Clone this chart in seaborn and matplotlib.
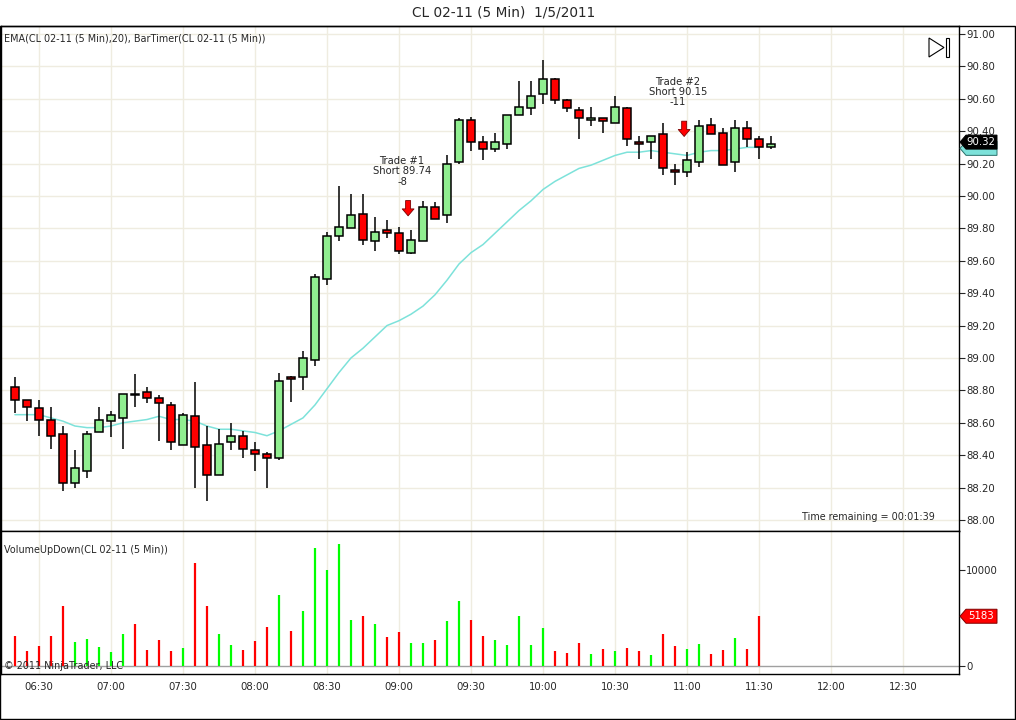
import matplotlib
matplotlib.use("Agg")
import numpy as np
import pandas as pd
import matplotlib.pyplot as plt
import matplotlib.transforms as mtrans
import seaborn as sns
from matplotlib.patches import Rectangle, Polygon

# 5 minute bars, 06:20 .. 11:35 (last bar still forming)
bar_times = pd.date_range("2011-01-05 06:20", "2011-01-05 11:35", freq="5min")

opens = [88.82, 88.74, 88.69, 88.62, 88.53, 88.23, 88.30, 88.54, 88.61, 88.63,
         88.78, 88.79, 88.75, 88.71, 88.46, 88.64, 88.46, 88.28, 88.48, 88.52,
         88.43, 88.41, 88.38, 88.88, 88.88, 88.99, 89.49, 89.75, 89.80, 89.89,
         89.72, 89.79, 89.77, 89.65, 89.72, 89.93, 89.88, 90.21, 90.47, 90.33,
         90.29, 90.32, 90.50, 90.54, 90.63, 90.72, 90.59, 90.53, 90.47, 90.48,
         90.45, 90.54, 90.33, 90.33, 90.38, 90.16, 90.15, 90.21, 90.44, 90.39,
         90.21, 90.42, 90.35, 90.30]
highs = [88.88, 88.74, 88.74, 88.70, 88.58, 88.43, 88.55, 88.70, 88.67, 88.78,
         88.90, 88.82, 88.77, 88.73, 88.66, 88.85, 88.58, 88.56, 88.60, 88.55,
         88.48, 88.42, 88.91, 88.89, 89.04, 89.52, 89.78, 90.06, 90.01, 90.01,
         89.87, 89.85, 89.81, 89.79, 89.97, 89.96, 90.25, 90.48, 90.49, 90.37,
         90.39, 90.50, 90.71, 90.71, 90.84, 90.73, 90.60, 90.55, 90.55, 90.48,
         90.62, 90.55, 90.37, 90.37, 90.45, 90.20, 90.27, 90.47, 90.48, 90.42,
         90.47, 90.46, 90.37, 90.37]
lows = [88.66, 88.61, 88.52, 88.44, 88.18, 88.20, 88.26, 88.54, 88.51, 88.44,
        88.70, 88.72, 88.49, 88.43, 88.46, 88.20, 88.12, 88.28, 88.43, 88.38,
        88.30, 88.20, 88.37, 88.73, 88.80, 88.95, 89.45, 89.72, 89.80, 89.70,
        89.66, 89.74, 89.64, 89.64, 89.72, 89.86, 89.83, 90.20, 90.28, 90.22,
        90.27, 90.29, 90.50, 90.50, 90.57, 90.57, 90.52, 90.35, 90.43, 90.39,
        90.45, 90.31, 90.23, 90.23, 90.13, 90.07, 90.12, 90.18, 90.38, 90.19,
        90.15, 90.30, 90.23, 90.29]
closes = [88.74, 88.70, 88.62, 88.52, 88.23, 88.32, 88.53, 88.62, 88.65, 88.78,
          88.77, 88.75, 88.72, 88.48, 88.65, 88.45, 88.28, 88.47, 88.52, 88.44,
          88.41, 88.38, 88.86, 88.87, 89.00, 89.50, 89.75, 89.81, 89.88, 89.73,
          89.78, 89.77, 89.66, 89.73, 89.93, 89.86, 90.20, 90.47, 90.33, 90.29,
          90.33, 90.50, 90.55, 90.62, 90.72, 90.59, 90.54, 90.48, 90.48, 90.46,
          90.55, 90.35, 90.32, 90.37, 90.17, 90.15, 90.22, 90.43, 90.38, 90.19,
          90.42, 90.35, 90.30, 90.32]

# EMA(20) and volume only exist for closed bars (06:20 .. 11:30)
ema20 = [88.65, 88.65, 88.65, 88.63, 88.61, 88.58, 88.57, 88.57, 88.58, 88.60,
         88.61, 88.62, 88.64, 88.62, 88.62, 88.61, 88.58, 88.56, 88.56, 88.55,
         88.54, 88.52, 88.55, 88.59, 88.63, 88.71, 88.81, 88.91, 89.00, 89.06,
         89.13, 89.20, 89.23, 89.27, 89.32, 89.39, 89.48, 89.58, 89.65, 89.70,
         89.77, 89.84, 89.91, 89.97, 90.04, 90.09, 90.13, 90.17, 90.19, 90.22,
         90.25, 90.27, 90.27, 90.28, 90.27, 90.26, 90.25, 90.27, 90.28, 90.28,
         90.29, 90.30, 90.30]
volume = [3150, 1590, 2110, 3150, 6260, 2530, 2840, 2010, 1490, 3360,
          4390, 1700, 2730, 1590, 1900, 10730, 6260, 3360, 2220, 1700,
          2630, 4080, 7400, 3670, 5740, 12280, 10000, 12700, 4810, 5230,
          4390, 3050, 3560, 2420, 2420, 2730, 4710, 6780, 4810, 3150,
          2730, 2220, 5230, 2220, 3980, 1590, 1380, 2420, 1280, 1800,
          1590, 1900, 1590, 1180, 3360, 2110, 1800, 2320, 1280, 1700,
          2940, 1800, 5183]

trade_times = ["09:05", "11:00"]
trade_marks = [89.86, 90.35]
trade_labels = ["Trade #1\nShort 89.74\n-8", "Trade #2\nShort 90.15\n-11"]

tick_labels = ["06:30", "07:00", "07:30", "08:00", "08:30", "09:00", "09:30",
               "10:00", "10:30", "11:00", "11:30", "12:00", "12:30"]

def to_min(hhmm):
    h, m = hhmm.split(":")
    return int(h) * 60 + int(m)

df = pd.DataFrame({"t": bar_times.hour * 60 + bar_times.minute,
                   "open": opens, "high": highs, "low": lows, "close": closes})
ind = pd.DataFrame({"t": df["t"][:len(volume)], "ema": ema20, "vol": volume})

sns.set_style("white")
plt.rcParams["font.family"] = ["DejaVu Sans"]

W, H = 1016, 720
fig = plt.figure(figsize=(W / 100, H / 100), dpi=100)
ax = fig.add_axes([1 / W, (H - 531) / H, 958 / W, 505 / H])
axv = fig.add_axes([1 / W, (H - 674) / H, 958 / W, 143 / H], sharex=ax)

grid_c = "#efece0"
GREEN, RED, LIME = "#90ee90", "#ff0000", "#00ff00"
EMA_C = "#7de2da"

# candles
body_w = 3.4
for _, r in df.iterrows():
    ax.vlines(r.t, r.low, r.high, color="black", lw=1.1, zorder=3)
    lo, hi = min(r.open, r.close), max(r.open, r.close)
    fc = GREEN if r.close >= r.open else RED
    ax.add_patch(Rectangle((r.t - body_w / 2, lo), body_w, max(hi - lo, 0.004),
                           fc=fc, ec="black", lw=1.1, zorder=4))

sns.lineplot(data=ind, x="t", y="ema", ax=ax, color=EMA_C, lw=1.1, zorder=2)

# trade markers
for tt, yp, lab in zip(trade_times, trade_marks, trade_labels):
    xt = to_min(tt) - 1.2
    ax.annotate("", xy=(xt, yp), xytext=(0, 15), textcoords="offset points",
                arrowprops=dict(arrowstyle="simple,head_length=0.5,head_width=0.85,tail_width=0.36",
                                mutation_scale=10, fc="#ff0000", ec="#7a0000", lw=0.6), zorder=6)
    ax.annotate(lab, xy=(xt - 2.5, yp), xytext=(0, 34), textcoords="offset points",
                ha="center", va="center", fontsize=7.2, linespacing=1.05, zorder=6)

ax.set_ylim(87.932, 91.049)
ax.set_xlim(374.2, 773.3)
ax.set_yticks(np.arange(88.0, 91.01, 0.2))
ax.yaxis.set_major_formatter(matplotlib.ticker.FormatStrFormatter("%.2f"))
ax.yaxis.tick_right()
ax.tick_params(axis="y", direction="out", length=4, width=0.8, labelsize=7.3, pad=1)
ax.tick_params(axis="x", bottom=False, labelbottom=False)
ax.set_xlabel("")
ax.set_ylabel("")
xt_vals = [to_min(s) for s in tick_labels]
ax.set_xticks(xt_vals)
ax.grid(True, color=grid_c, lw=1)
ax.set_axisbelow(True)
for s in ax.spines.values():
    s.set_color("black")
    s.set_linewidth(1)

ax.text(0.003, 0.975, "EMA(CL 02-11 (5 Min),20), BarTimer(CL 02-11 (5 Min))",
        transform=ax.transAxes, fontsize=6.9, va="center", ha="left")
ax.text(0.975, 0.027, "Time remaining = 00:01:39", transform=ax.transAxes,
        fontsize=6.9, va="center", ha="right")

# volume panel
vcol = [LIME if c >= o else RED for o, c in zip(opens[:len(volume)], closes[:len(volume)])]
axv.vlines(ind["t"], 0, ind["vol"], colors=vcol, lw=1.6, zorder=3)
axv.axhline(0, color="#a0a0a0", lw=1, zorder=2)
axv.set_ylim(-833, 14063)
axv.set_yticks([0, 10000])
axv.yaxis.tick_right()
axv.tick_params(axis="y", direction="out", length=4, width=0.8, labelsize=7.3, pad=1)
axv.set_xticks(xt_vals)
axv.set_xticklabels(tick_labels)
axv.tick_params(axis="x", direction="out", length=4, width=0.8, labelsize=7.3, pad=2)
axv.grid(True, axis="x", color=grid_c, lw=1)
axv.set_axisbelow(True)
axv.set_xlabel("")
axv.set_ylabel("")
for s in axv.spines.values():
    s.set_color("black")
    s.set_linewidth(1)
axv.text(0.003, 0.87, "VolumeUpDown(CL 02-11 (5 Min))", transform=axv.transAxes,
         fontsize=6.9, va="center", ha="left")
axv.text(0.003, 0.055, "\u00a9 2011 NinjaTrader, LLC", transform=axv.transAxes,
         fontsize=6.9, va="center", ha="left", zorder=5)

# value tags on the right axis (drawn in pixel space)
def tag(axis, yval, fc, ec, text=None, dy=0):
    x0 = axis.transAxes.transform((1, 0))[0]
    y0 = axis.transData.transform((0, yval))[1] + dy
    pts = [(x0 + 1, y0), (x0 + 7, y0 + 7), (x0 + 38, y0 + 7), (x0 + 38, y0 - 7), (x0 + 7, y0 - 7)]
    fig.patches.append(Polygon(pts, closed=True, transform=mtrans.IdentityTransform(),
                               fc=fc, ec=ec, lw=0.7, zorder=5))
    if text:
        fig.text((x0 + 22) / W, y0 / H, text, ha="center", va="center",
                 fontsize=7.3, color="white", zorder=6)

tag(ax, ema20[-1], EMA_C, "#2a6f6a", dy=-1)
tag(ax, closes[-1], "black", "black", "90.32", dy=2)
tag(axv, volume[-1], "#ff0000", "#800000", "5183")

# title, frame and the small "play" glyph
fig.text(504 / W, 1 - 13 / H, "CL 02-11 (5 Min)  1/5/2011", ha="center", va="center", fontsize=9.8)
fig.patches.append(Rectangle((0, 1 - 719 / H), 1015 / W, 693 / H, transform=fig.transFigure,
                             fill=False, ec="black", lw=1))
tri = [(929, 38), (929, 57), (944, 47.5)]
fig.patches.append(Polygon([(x / W, 1 - y / H) for x, y in tri], closed=True,
                           transform=fig.transFigure, fc="white", ec="black", lw=0.8))
fig.patches.append(Rectangle((945.5 / W, 1 - 57 / H), 3.5 / W, 19 / H, transform=fig.transFigure,
                             fc="white", ec="black", lw=0.8))

fig.savefig("out.png", dpi=100)
